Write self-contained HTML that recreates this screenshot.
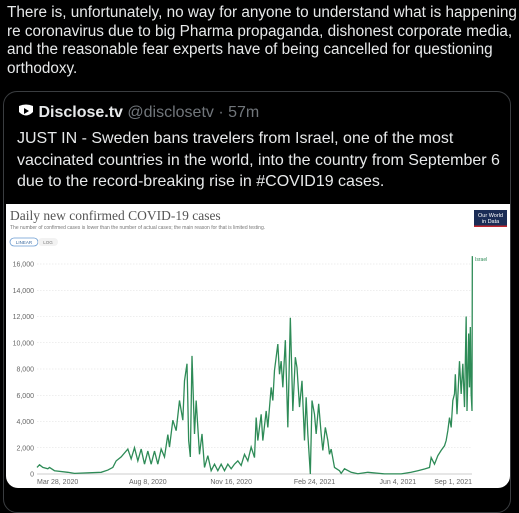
<!DOCTYPE html>
<html><head><meta charset="utf-8"><style>
body{margin:0;width:519px;height:493px;background:#000;overflow:hidden;font-family:"Liberation Sans",sans-serif;color:#e7e9ea;position:relative}
.t{position:absolute;left:7px;top:4px;width:512px;font-size:15.3px;line-height:18.7px}
.q{position:absolute;left:3px;top:91px;width:506px;height:420px;border:1px solid #3a3d40;border-radius:14px;overflow:hidden}
.hd{position:absolute;left:14px;top:12px;font-size:16px;white-space:nowrap}
.hd b{font-weight:bold;color:#e7e9ea}
.hd span{color:#71767b}
.bd{position:absolute;left:13px;top:36px;width:485px;font-size:16px;line-height:21.5px}
.img{position:absolute;left:2px;top:112px;width:504px;height:284px;background:#fff;border-radius:0 0 12px 12px;overflow:hidden}
</style></head><body>
<div class="t">There is, unfortunately, no way for anyone to understand what is happening re coronavirus due to big Pharma propaganda, dishonest corporate media, and the reasonable fear experts have of being cancelled for questioning orthodoxy.</div>
<div class="q">
 <div class="hd"><svg width="16" height="14" viewBox="0 0 16 14" style="vertical-align:-1px"><path d="M1 2 Q8 -1 15 2 L15 8 Q8 15 1 8Z" fill="#fff"/><path d="M6 4 L11 7 L6 10Z" fill="#000"/></svg> <b>Disclose.tv</b> <span>@disclosetv · 57m</span></div>
 <div class="bd">JUST IN - Sweden bans travelers from Israel, one of the most vaccinated countries in the world, into the country from September 6 due to the record-breaking rise in #COVID19 cases.</div>
 <div class="img">
 <svg id="ch" width="504" height="284" viewBox="5 203 504 284" style="display:block">
  <text x="9" y="219" font-family="Liberation Serif,serif" font-size="13.5" fill="#555">Daily new confirmed COVID-19 cases</text>
  <text x="9" y="228" font-size="5" fill="#777">The number of confirmed cases is lower than the number of actual cases; the main reason for that is limited testing.</text>
  <rect x="9" y="237" width="28" height="8" rx="4" fill="#fff" stroke="#6a9bd1" stroke-width="0.8"/>
  <text x="23" y="243" font-size="4.5" fill="#3b6aa0" text-anchor="middle">LINEAR</text>
  <rect x="37" y="237" width="20" height="8" rx="4" fill="#f2f2f2"/>
  <text x="47" y="243" font-size="4.5" fill="#777" text-anchor="middle">LOG</text>
  <rect x="473" y="209" width="33" height="17" fill="#1a2c55"/>
  <rect x="473" y="224.5" width="33" height="1.5" fill="#c0262d"/>
  <text x="489.5" y="216" font-size="5.5" fill="#fff" text-anchor="middle">Our World</text>
  <text x="489.5" y="222" font-size="5.5" fill="#fff" text-anchor="middle">in Data</text>
  <g id="grid"></g><g id="yl"></g><g id="xl"></g>
  <polyline id="ln" fill="none" stroke="#2e8b57" stroke-width="1.3"/>
  <text x="474" y="260" font-size="5" fill="#2e8b57">Israel</text>
 </svg>
 </div>
</div>
<script>
const yTicks=[0,2000,4000,6000,8000,10000,12000,14000,16000];
const xTickDays=[0,133,233,333,433,522];
const xTickLabels=["Mar 28, 2020","Aug 8, 2020","Nov 16, 2020","Feb 24, 2021","Jun 4, 2021","Sep 1, 2021"];
const days=[0,3,7,13,15,21,37,45,77,85,91,95,101,109,113,117,121,125,129,133,137,141,145,149,153,157,159,163,167,171,175,177,180,182,184,186,189,191,195,198,201,205,209,213,217,221,225,229,233,237,241,245,249,253,257,261,263,265,269,271,275,277,281,283,285,289,291,293,295,298,301,304,307,310,312,315,318,321,323,325,328,330,333,335,338,341,343,346,349,351,353,357,363,365,369,377,385,397,417,437,449,457,465,471,473,477,481,485,489,491,493,495,497,499,501,502,504,507,509,511,513,515,516,518,519,520,521,522,522.4];
const cases=[500,700,500,400,500,250,130,50,130,300,500,1000,1300,1900,1150,2000,1000,1900,750,1750,750,1750,750,1900,1300,3000,2050,4100,3300,5600,4100,7100,8400,2550,1300,9000,3050,5600,1500,3050,500,1400,250,750,250,750,250,750,400,750,1000,650,1500,1000,2050,1250,4300,2550,4550,2550,4800,3550,6600,5600,7900,9900,7600,8600,6600,10200,3550,11900,4800,8900,8100,5100,7100,2550,5850,3050,0,5600,4550,3050,5350,3050,1800,3550,2550,1500,1900,500,250,50,400,130,20,130,10,10,130,250,380,500,1250,750,1400,1800,2150,2550,3300,4300,3550,5600,6100,7600,4550,8600,6100,8400,5100,12000,4800,10700,6600,11200,6100,4800,16600];
const X=d=>36+d*(435/522);
const Y=v=>473-v*(210/16000);
const NS="http://www.w3.org/2000/svg";
const g=document.getElementById('grid'),yl=document.getElementById('yl'),xl=document.getElementById('xl');
yTicks.forEach(v=>{
 const l=document.createElementNS(NS,'line');
 
 
 l.setAttribute('x1',36);l.setAttribute('x2',471);l.setAttribute('y1',Y(v));l.setAttribute('y2',Y(v));
 l.setAttribute('stroke',v===0?'#999':'#ddd');l.setAttribute('stroke-width',0.6);
 if(v!==0)l.setAttribute('stroke-dasharray','1.5,1.5');
 g.appendChild(l);
 const t=document.createElementNS(NS,'text');
 
 
 t.setAttribute('x',33);t.setAttribute('y',Y(v)+2.5);t.setAttribute('text-anchor','end');
 t.setAttribute('font-size','7');t.setAttribute('fill','#666');
 t.textContent=v.toLocaleString('en-US');yl.appendChild(t);
});
xTickDays.forEach((d,i)=>{
 const t=document.createElementNS(NS,'text');
 
 
 const a=i===0?'start':(i===xTickDays.length-1?'end':'middle');
 t.setAttribute('x',X(d));t.setAttribute('y',483);t.setAttribute('text-anchor',a);
 t.setAttribute('font-size','7');t.setAttribute('fill','#666');
 t.textContent=xTickLabels[i];xl.appendChild(t);
});
document.getElementById('ln').setAttribute('points',days.map((d,i)=>X(d)+','+Y(cases[i])).join(' '));
</script>
</body></html>
